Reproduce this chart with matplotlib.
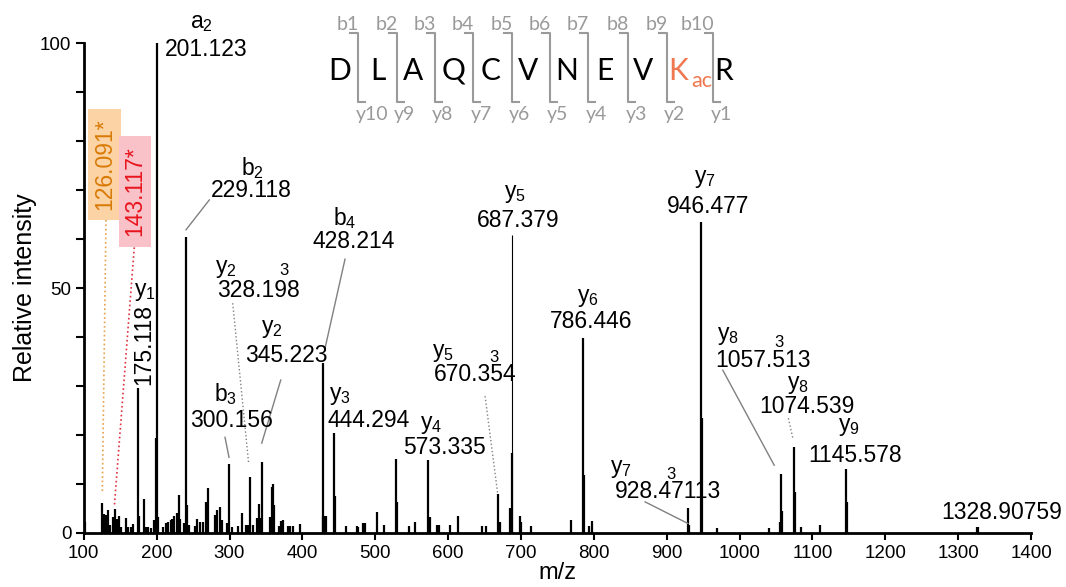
import matplotlib
matplotlib.use('Agg')
import matplotlib.pyplot as plt
from matplotlib.patches import Rectangle
from matplotlib.lines import Line2D

plt.rcParams['font.family'] = ['Liberation Sans', 'DejaVu Sans']

# peak list (m/z, relative intensity)
peak_mz = [101.6, 125.4, 128.1, 130.5, 133.6, 136.0, 139.7, 142.4, 145.1, 148.3,
           150.6, 157.5, 161.1, 164.4, 168.0, 174.8, 176.2, 182.6, 185.0, 188.5,
           192.2, 196.4, 199.1, 200.9, 202.3, 208.3, 212.8, 216.0, 219.3, 221.5,
           224.2, 227.5, 230.7, 232.0, 238.0, 240.3, 242.1, 244.8, 252.6, 255.8,
           259.5, 263.2, 267.7, 270.0, 280.1, 282.4, 286.9, 289.3, 296.2, 299.3,
           303.0, 312.1, 316.7, 322.6, 325.8, 328.1, 332.7, 337.3, 340.5, 341.9,
           344.2, 355.6, 357.9, 360.1, 361.5, 368.4, 370.7, 373.9, 380.7, 383.0,
           386.8, 396.8, 427.9, 428.6, 429.7, 431.0, 432.5, 443.4, 444.8, 459.5,
           474.6, 476.8, 483.7, 486.0, 502.0, 512.5, 528.1, 529.5, 546.4, 554.6,
           572.9, 575.2, 585.3, 587.6, 602.7, 613.2, 646.2, 651.7, 669.0, 671.3,
           685.0, 687.4, 698.8, 700.1, 713.9, 768.8, 785.6, 787.0, 793.5, 797.2,
           929.8, 931.0, 946.8, 947.8, 969.6, 1041.0, 1055.5, 1057.0, 1058.3, 1074.9,
           1076.0, 1084.9, 1110.6, 1145.8, 1146.8, 1326.0, 1327.0]
peak_int = [2.2, 6.1, 3.8, 3.6, 4.6, 1.6, 3.3, 4.8, 2.9, 3.4,
            1.1, 3.1, 1.1, 1.1, 1.8, 29.5, 3.4, 6.8, 1.1, 1.1,
            1.0, 2.6, 19.4, 100.0, 3.3, 1.1, 1.9, 2.2, 2.6, 2.8,
            3.4, 4.0, 7.8, 2.9, 1.9, 60.5, 5.7, 1.6, 1.3, 2.7,
            2.2, 2.2, 6.3, 9.1, 3.6, 4.6, 5.2, 2.6, 2.0, 14.0,
            1.1, 1.4, 4.1, 1.6, 1.6, 11.3, 1.6, 3.1, 5.8, 3.1,
            14.5, 3.3, 9.4, 9.9, 5.7, 1.4, 2.4, 2.6, 1.4, 1.3,
            1.3, 1.7, 3.4, 34.6, 3.4, 3.4, 3.4, 20.3, 7.4, 1.3,
            1.3, 1.1, 2.0, 2.0, 4.3, 1.6, 15.0, 6.3, 1.3, 2.2,
            14.9, 3.3, 1.6, 1.6, 1.6, 3.4, 1.3, 1.3, 7.9, 2.2,
            5.1, 16.2, 3.4, 2.2, 1.4, 2.6, 39.8, 11.8, 1.4, 2.3,
            5.1, 1.5, 63.4, 23.4, 1.0, 1.0, 2.2, 11.9, 4.4, 17.6,
            8.4, 1.2, 1.6, 13.0, 6.3, 1.2, 1.2]
# the thin tall line of y5
thin_mz = [687.4]
thin_int = [60.8]

# annotated fragment ions
ion_names = ['a_2', 'b_2', 'b_4', 'y_2', 'y_2', 'b_3', 'y_5', 'y_6', 'y_7',
             'y_5', 'y_4', 'y_3', 'y_7', 'y_8', 'y_8', 'y_9', '']
ion_values = ['201.123', '229.118', '428.214', '328.198', '345.223', '300.156',
              '687.379', '786.446', '946.477', '670.354', '573.335', '444.294',
              '928.47113', '1057.513', '1074.539', '1145.578', '1328.90759']
ion_charge = ['', '', '', '3', '', '', '', '', '', '3', '', '', '3', '3', '', '', '']

y1_name, y1_value = 'y_1', '175.118'
marker_values = ['126.091*', '143.117*']

sequence = ['D', 'L', 'A', 'Q', 'C', 'V', 'N', 'E', 'V', 'K', 'R']
b_names = ['b1', 'b2', 'b3', 'b4', 'b5', 'b6', 'b7', 'b8', 'b9', 'b10']
y_names = ['y10', 'y9', 'y8', 'y7', 'y6', 'y5', 'y4', 'y3', 'y2', 'y1']

# label layout (data coords): number baseline, ion-name baseline, charge mark
num_xy = [(267.8, 97.4), (329.9, 68.5), (469.9, 58.1), (339.1, 48.2), (377.6, 34.9),
          (302.5, 21.7), (696.4, 62.4), (796.0, 41.8), (956.6, 65.3), (637.4, 30.9),
          (594.7, 16.1), (491.2, 21.5), (901.5, 7.0), (1032.7, 33.8), (1092.4, 24.4),
          (1159.0, 14.5), (1360.0, 2.9)]
name_xy = [(262.0, 103.1), (330.9, 73.1), (458.6, 62.9), (294.9, 53.1), (358.6, 40.8),
           (294.9, 26.8), (691.5, 68.4), (791.4, 47.2), (952.0, 71.5), (592.4, 35.9),
           (576.9, 21.1), (451.7, 27.1), (837.1, 12.2), (984.0, 39.3), (1079.7, 29.3),
           (1150.6, 20.7), None]
charge_xy = [None, None, None, (375.3, 53.5), None, None, None, None, None,
             (663.5, 35.8), None, None, (906.0, 11.8), (1054.7, 38.9), None, None, None]
leaders = [((240.3, 61.9), (272.3, 68.0), '-'),
           ((458.5, 55.9), (431.1, 37.7), '-'),
           ((304.4, 46.9), (326.1, 14.4), ':'),
           ((370.3, 31.2), (344.2, 18.3), '-'),
           ((293.8, 19.5), (299.3, 15.4), '-'),
           ((650.7, 27.9), (668.2, 7.8), ':'),
           ((870.3, 6.3), (928.9, 1.9), '-'),
           ((977.0, 33.2), (1047.5, 13.8), '-'),
           ((1067.0, 23.4), (1073.1, 19.3), ':')]

fig = plt.figure(figsize=(10.66, 5.87), dpi=100)
ax = fig.add_axes([0.0786, 0.0925, 0.8886, 0.8337])

ax.vlines(peak_mz, 0, peak_int, color='black', lw=1.6)
ax.vlines(thin_mz, 0, thin_int, color='black', lw=0.8)

ax.set_xlim(100, 1400)
ax.set_ylim(0, 100)
ax.spines['top'].set_visible(False)
ax.spines['right'].set_visible(False)
ax.spines['left'].set_linewidth(2)
ax.spines['bottom'].set_linewidth(2)
ax.set_xticks(range(100, 1401, 100))
ax.set_yticks([0, 50, 100])
ax.set_yticks(range(0, 101, 10), minor=True)
ax.tick_params(axis='both', which='both', direction='out', width=1.5, labelsize=13.5)
ax.tick_params(axis='x', length=5, pad=4)
ax.tick_params(axis='y', which='both', length=6, pad=3)
ax.set_xlabel('m/z', fontsize=17, labelpad=0)
ax.set_ylabel('Relative intensity', fontsize=18, labelpad=2)

lab_fs = 16.5
for i, val in enumerate(ion_values):
    ax.text(num_xy[i][0], num_xy[i][1], val, ha='center', va='baseline',
            fontsize=lab_fs, clip_on=False)
    if name_xy[i] is not None:
        ax.text(name_xy[i][0], name_xy[i][1], r'$\mathregular{%s}$' % ion_names[i],
                ha='center', va='baseline', fontsize=lab_fs, clip_on=False)
    if charge_xy[i] is not None:
        ax.text(charge_xy[i][0], charge_xy[i][1], ion_charge[i], ha='center',
                va='center', fontsize=12, clip_on=False)

for (x0, y0), (x1, y1), ls in leaders:
    ax.plot([x0, x1], [y0, y1], color='#808080', lw=1, ls=ls)

# y1 label, written vertically
ax.text(182.4, 38.4, y1_value, rotation=90, ha='center', va='center', fontsize=lab_fs)
ax.text(184.0, 48.3, r'$\mathregular{%s}$' % y1_name, ha='center', va='baseline',
        fontsize=lab_fs)

# diagnostic ions in coloured boxes
ax.add_patch(Rectangle((106.2, 63.9), 44.9, 22.7, color='#fcd3a4', lw=0, zorder=2))
ax.add_patch(Rectangle((148.2, 58.3), 44.4, 22.8, color='#f9c2c8', lw=0, zorder=3))
ax.text(129.1, 75.2, marker_values[0], rotation=90, ha='center', va='center',
        fontsize=lab_fs, color='#d97a06', zorder=4)
ax.text(170.3, 69.8, marker_values[1], rotation=90, ha='center', va='center',
        fontsize=lab_fs, color='#e8141e', zorder=4)
ax.plot([130.5, 125.4], [63.9, 8.0], color='#e8a04a', lw=1.2, ls=':')
ax.plot([169.3, 141.9], [58.3, 5.3], color='#e23040', lw=1.2, ls=':')

# peptide sequence with fragment brackets (figure pixel layout)
W, H = 1066.0, 587.0
def fx(px):
    return px / W
def fy(py):
    return 1 - py / H

letter_x = [340, 378.3, 413.3, 453.3, 490.7, 528.3, 566.7, 605, 643.3, 678.3, 723.3]
bracket_x = [358.3, 396.7, 435, 473.3, 511.7, 550, 588.3, 628.3, 666.7, 713.3]
seq_font = ['Lato', 'DejaVu Sans']
for i, aa in enumerate(sequence):
    col = '#f07850' if aa == 'K' else 'black'
    fig.text(fx(letter_x[i]), fy(80), aa, ha='center', va='baseline', fontsize=21.5,
             color=col, family=seq_font)
fig.text(fx(691.5), fy(86.5), 'ac', ha='left', va='baseline', fontsize=15.5,
         color='#f07850', family=seq_font)

grey = '#9a9a9a'
for i, bx in enumerate(bracket_x):
    fig.add_artist(Line2D([fx(bx - 8), fx(bx), fx(bx), fx(bx + 7)],
                          [fy(33), fy(33), fy(102), fy(102)],
                          color=grey, lw=1.5, transform=fig.transFigure))
    fig.text(fx(bx + 1), fy(29.5), b_names[i], ha='right', va='baseline',
             fontsize=14, color=grey, family=seq_font)
    fig.text(fx(bx - 3), fy(120), y_names[i], ha='left', va='baseline',
             fontsize=14, color=grey, family=seq_font)

fig.savefig('out.png', dpi=100)
